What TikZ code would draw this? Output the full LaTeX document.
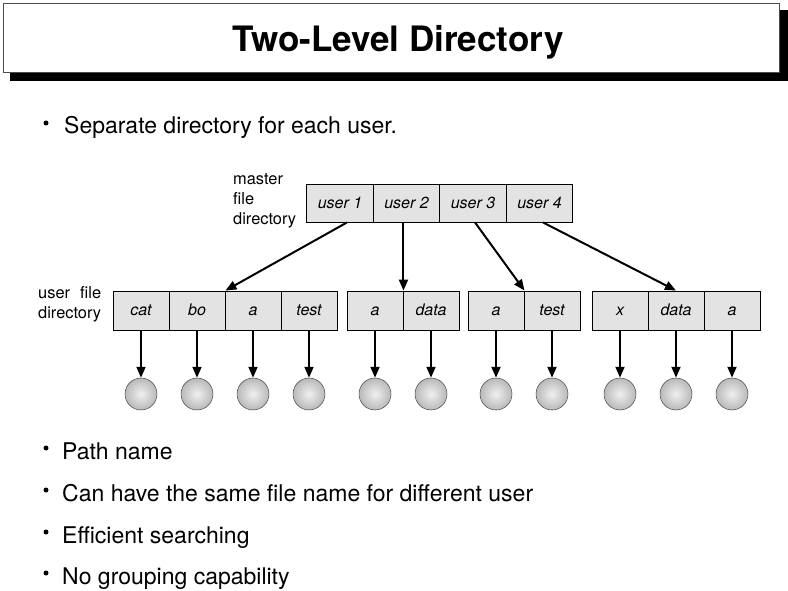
\documentclass[tikz,border=0pt]{standalone}
\usepackage{fontspec}
\setmainfont{TeX Gyre Heros}
\usetikzlibrary{arrows.meta}
\begin{document}
\begin{tikzpicture}[x=1pt,y=-1pt,
  mcell/.style={draw, fill=gray!22, line width=0.9pt, minimum width=66.5pt, minimum height=38pt, inner sep=0pt, text height=13pt, text depth=2pt, font=\itshape\fontsize{16}{19}\selectfont},
  ucell/.style={draw, fill=gray!22, line width=0.9pt, minimum width=56pt, minimum height=39pt, inner sep=0pt, text height=13pt, text depth=2pt, font=\itshape\fontsize{16}{19}\selectfont},
  ball/.style={circle, minimum size=32pt, inner sep=0pt, draw=gray!55!black, line width=0.5pt, inner color=gray!12, outer color=gray!55},
  arr/.style={-{Triangle[length=11pt,width=9pt]}, line width=2pt},
  lbl/.style={align=left, anchor=north west, inner sep=0pt, font=\fontsize{16.4}{20}\selectfont},
  bul/.style={anchor=base west, inner sep=0pt, font=\fontsize{23}{26}\selectfont},
  dot/.style={circle, fill=black, inner sep=0pt, minimum size=5pt}]
\useasboundingbox (0,0) rectangle (788,591);
% title
\fill[black] (10,10) rectangle (788,81);
\node[draw=gray!60!black, line width=0.8pt, fill=white, minimum width=776pt, minimum height=69pt, anchor=north west, inner sep=0pt] (tbox) at (3,3) {};
\node[font=\bfseries\fontsize{35}{40}\selectfont, inner sep=0pt] (title) at (398,42) {Two-Level Directory};
% bullets
\node[dot] (d1b) at (46,123) {};
\node[bul] (b1) at (64,134) {Separate directory for each user.};
\node[dot] (d2b) at (46,448) {};
\node[bul] (b2) at (62,459) {Path name};
\node[dot] (d3b) at (46,490) {};
\node[bul] (b3) at (62,501) {Can have the same file name for different user};
\node[dot] (d4b) at (46,532) {};
\node[bul] (b4) at (62,543) {Efficient searching};
\node[dot] (d5b) at (46,573) {};
\node[bul] (b5) at (62,584) {No grouping capability};
% master directory
\node[lbl] (ml) at (233,173) {master\\file\\directory};
\node[mcell] (u1) at (340,203) {user 1};
\node[mcell] (u2) at (406.5,203) {user 2};
\node[mcell] (u3) at (473,203) {user 3};
\node[mcell] (u4) at (539.5,203) {user 4};
% user file directories
\node[lbl] (ul) at (38,286) {\setbox0\hbox{directory}\hbox to\wd0{user\hfill file}\\directory};
\node[ucell] (c1) at (141,310.5) {cat};
\node[ucell] (c2) at (197,310.5) {bo};
\node[ucell] (c3) at (253,310.5) {a};
\node[ucell] (c4) at (309,310.5) {test};
\node[ucell] (d1) at (375,310.5) {a};
\node[ucell] (d2) at (431,310.5) {data};
\node[ucell] (e1) at (496,310.5) {a};
\node[ucell] (e2) at (552,310.5) {test};
\node[ucell] (f1) at (620,310.5) {x};
\node[ucell] (f2) at (676,310.5) {data};
\node[ucell] (f3) at (732,310.5) {a};
% files
\foreach \n in {c1,c2,c3,c4,d1,d2,e1,e2,f1,f2,f3}{
  \node[ball] (o\n) at ([yshift=-83.5pt]\n.center) {};
  \draw[arr] (\n.south) -- (o\n.north);
}
% master arrows
\draw[arr] ([xshift=7pt]u1.south) -- (c2.north east);
\draw[arr] (d1.north east |- u2.south) -- (d1.north east);
\draw[arr] ([xshift=2pt]u3.south) -- (e1.north east);
\draw[arr] ([xshift=3.5pt]u4.south) -- (f2.north);
\end{tikzpicture}
\end{document}
